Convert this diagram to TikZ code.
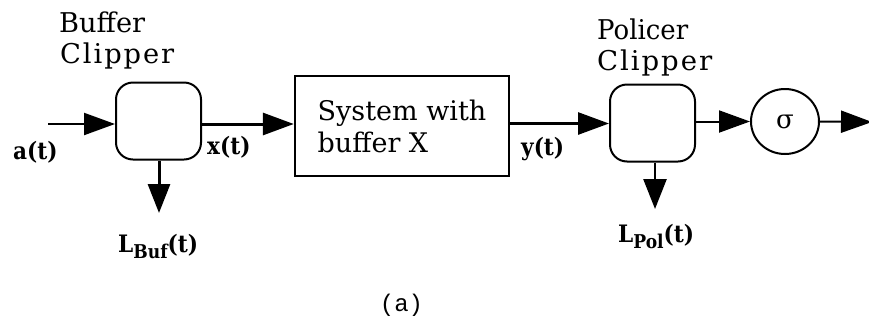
\documentclass[tikz,border=0pt]{standalone}
\usepackage{fontspec}
\usepackage{graphicx}
\setmainfont{DejaVu Serif}
\newfontfamily\labfont{DejaVu Serif}[FakeStretch=0.9]
\newfontfamily\ttlfont{DejaVu Serif}
\newfontfamily\monofont{Liberation Mono}
\usetikzlibrary{arrows.meta,shapes.geometric,calc}
\newlength\bufw
\begin{document}
\settowidth{\bufw}{\ttlfont\fontsize{26pt}{30pt}\selectfont Buffer}%
\pgfmathsetmacro{\bufsf}{86/\bufw}%
\begin{tikzpicture}[x=1pt,y=-1pt,
  blk/.style={draw,line width=2pt,rounded corners=17pt,minimum width=85pt,minimum height=77pt,inner sep=0pt},
  sysbox/.style={draw,line width=2.4pt,minimum width=214pt,minimum height=100pt,inner sep=0pt,align=left,font=\ttlfont\fontsize{27pt}{32pt}\selectfont},
  sigbox/.style={draw,line width=2pt,ellipse,minimum width=68pt,minimum height=65pt,inner sep=0pt,font=\ttlfont\fontsize{26pt}{30pt}\selectfont},
  arr/.style={-{Triangle[length=31pt,width=22pt]}},
  lab/.style={anchor=base west,inner sep=0pt,font=\labfont\bfseries\fontsize{24pt}{28pt}\selectfont},
  ttl/.style={anchor=base west,inner sep=0pt,font=\ttlfont\fontsize{26pt}{30pt}\selectfont},
]
\useasboundingbox (0,0) rectangle (869,322);
% blocks
\node[blk] (buf) at (158.5,121) {};
\node[sysbox] (sys) at (402,126) {System with\\buffer X};
\node[blk] (pol) at (652.5,123) {};
\node[sigbox] (sig) at (785,121.5) {σ};
% free ends
\coordinate (in) at (48,124);
\coordinate (yl) at (511,123.5);
\coordinate (out) at (872,122);
\coordinate (bd) at (159,213);
\coordinate (pd) at (655,209);
% connectors
\draw[arr,line width=2.2pt] (in) -- (buf.west |- in);
\draw[arr,line width=3pt] (buf.east |- in) -- (sys.west |- in);
\draw[arr,line width=2.8pt] (sys.east |- yl) -- (pol.west |- yl);
\draw[arr,line width=2pt] (pol.east |- sig) -- (sig.west);
\draw[arr,line width=2pt] (sig.east) -- (out);
\draw[-{Triangle[length=29pt,width=22pt]},line width=3pt] (bd |- buf.south) -- (bd);
\draw[-{Triangle[length=30pt,width=23pt]},line width=2.6pt] (pd |- pol.south) -- (pd);
% labels
\node[ttl] (t1) at (59,32) {\scalebox{\bufsf}{Buffer}};
\node[ttl] (t2) at (60,63) {\resizebox{114pt}{\bufsf\height}{\addfontfeature{LetterSpace=7}Clipper}};
\node[ttl] (t3) at (597,39) {\resizebox{91pt}{\bufsf\height}{Policer}};
\node[ttl] (t4) at (597,70) {\resizebox{115pt}{\bufsf\height}{\addfontfeature{LetterSpace=7}Clipper}};
\node[lab] (la) at (13,159) {a(t)};
\node[lab] (lx) at (207,154) {x(t)};
\node[lab] (ly) at (521,155) {y(t)};
\node[lab] (lb) at (118,252) {L\raisebox{-6pt}{\fontsize{19pt}{20pt}\selectfont Buf}(t)};
\node[lab] (lp) at (618,242) {L\raisebox{-6pt}{\fontsize{19pt}{20pt}\selectfont Pol}(t)};
\node[anchor=base,inner sep=0pt,font=\monofont\fontsize{24pt}{28pt}\selectfont] (cap) at (401.5,311) {(a)};
\end{tikzpicture}
\end{document}
